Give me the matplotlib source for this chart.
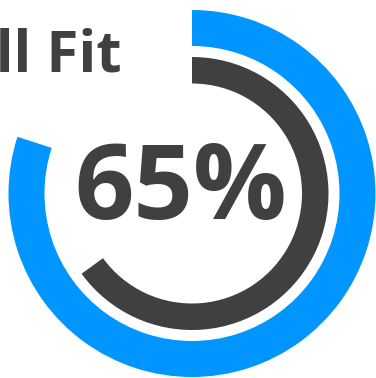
import matplotlib.pyplot as plt

plt.rcParams['font.family'] = ['Open Sans', 'DejaVu Sans']

# ring values (percent)
labels = ['Target', 'Overall Fit']
values = [80, 65]
colors = ['#0095ff', '#404040']
title = 'Overall Fit'
center_text = '65%'

W, H = 376, 378
fig = plt.figure(figsize=(W / 100, H / 100), dpi=100)
ax = fig.add_axes([0, 0, 1, 1])

cx, cy = 192, H - 193.5
radii = [183.5, 136.5]
widths = [36, 26.5]

for val, col, r, w in zip(values, colors, radii, widths):
    ax.pie([val, 100 - val], colors=[col, 'none'], startangle=90,
           counterclock=False, radius=r, center=(cx, cy),
           wedgeprops=dict(width=w, linewidth=0))

ax.text(181, H - 192, center_text, ha='center', va='center',
        fontsize=75, fontweight='bold', color='#404040')
ax.text(122, H - 71, title, ha='right', va='baseline',
        fontsize=42, fontweight='bold', color='#404040')

ax.set_xlim(0, W)
ax.set_ylim(0, H)
ax.set_aspect('auto')
ax.axis('off')

fig.savefig('out.png', dpi=100)
